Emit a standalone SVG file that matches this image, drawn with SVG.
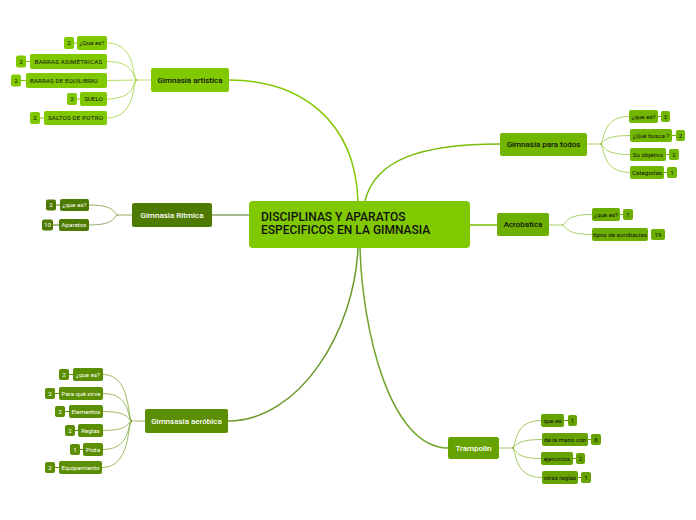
<svg xmlns="http://www.w3.org/2000/svg" width="696" height="520" viewBox="0 0 696 520">
<style>
text{font-family:Roboto,"Liberation Sans",sans-serif;text-anchor:middle;dominant-baseline:central}
.main text{font-size:12px;font-weight:500;fill:#111;text-anchor:start;dominant-baseline:auto}
.l1{font-size:8px;font-weight:500}
.s{font-size:6.2px}
.b{font-size:6.2px}
.dk{fill:#111}
.wt{fill:#fff}
.c{fill:none;stroke-width:1.5}
.sc{fill:none;stroke-width:1;stroke-opacity:0.6}
.g1{fill:#80c800}.g2{fill:#71b700}.g3{fill:#6caf00}.g4{fill:#4d7a00}.g5{fill:#5b8e00}.g6{fill:#66a300}
</style>
<g id="connectors">
<path class="c" stroke="#80c800" d="M358,201 C355,120 300,80 229,80"/>
<path class="c" stroke="#76bc08" d="M365,201 C375,160 420,144 500,144"/>
<path class="c" stroke="#8aa36a" d="M249,215 L212,215"/>
<path class="c" stroke="#74b800" d="M469,225 L497,225"/>
<path class="c" stroke="#6a9a28" d="M358,247 C355,330 300,421 228,421"/>
<path class="c" stroke="#6fa52a" d="M360,247 C362,330 390,448 448,448"/>
<g stroke="#80c800">
<path class="sc" d="M151,80 L137,80"/>
<path class="sc" d="M137,80 C132,80 137,43 107,43"/>
<path class="sc" d="M137,80 C132,80 137,61.5 107,61.5"/>
<path class="sc" d="M137,80 L107,80.5"/>
<path class="sc" d="M137,80 C132,80 137,99 107,99"/>
<path class="sc" d="M137,80 C132,80 137,118 107,118"/>
</g>
<g stroke="#71b700">
<path class="sc" d="M587,144 L600,144"/>
<path class="sc" d="M600,144 C605,144 600,116.5 629,116.5"/>
<path class="sc" d="M600,144 C605,144 600,135.5 630,135.5"/>
<path class="sc" d="M600,144 C605,144 600,154.5 630,154.5"/>
<path class="sc" d="M600,144 C605,144 600,172.5 630,172.5"/>
</g>
<g stroke="#4d7a00">
<path class="sc" d="M132,215 L118,215"/>
<path class="sc" d="M118,215 C113,215 118,205 89,205"/>
<path class="sc" d="M118,215 C113,215 118,225 89,225"/>
</g>
<g stroke="#6caf00">
<path class="sc" d="M549,225 L562,225"/>
<path class="sc" d="M562,225 C567,225 562,214.5 592,214.5"/>
<path class="sc" d="M562,225 C567,225 562,234.5 592,234.5"/>
</g>
<g stroke="#5b8e00">
<path class="sc" d="M145,421 L132,421"/>
<path class="sc" d="M132,421 C127,421 132,374.5 103,374.5"/>
<path class="sc" d="M132,421 C127,421 132,393.5 103,393.5"/>
<path class="sc" d="M132,421 C127,421 132,411.5 103,411.5"/>
<path class="sc" d="M132,421 C127,421 132,430.5 103,430.5"/>
<path class="sc" d="M132,421 C127,421 132,449.5 103,449.5"/>
<path class="sc" d="M132,421 C127,421 132,467.5 102,467.5"/>
</g>
<g stroke="#66a300">
<path class="sc" d="M499,448 L512,448"/>
<path class="sc" d="M512,448 C517,448 512,420.5 541,420.5"/>
<path class="sc" d="M512,448 C517,448 512,439.5 542,439.5"/>
<path class="sc" d="M512,448 C517,448 512,458.5 541,458.5"/>
<path class="sc" d="M512,448 C517,448 512,477.5 542,477.5"/>
</g>
</g>
<g id="main" class="main">
<rect x="249" y="201" width="221" height="47" rx="4" fill="#80c800"/>
<text x="261" y="221">DISCIPLINAS Y APARATOS</text>
<text x="261" y="233.5">ESPECIFICOS EN LA GIMNASIA</text>
</g>
<g id="artistica">
<rect class="g1" x="151" y="68" width="78" height="24" rx="2"/>
<text class="l1 dk" x="190" y="80">Gimnasia artistica</text>
</g>
<g id="paratodos">
<rect class="g2" x="500" y="133" width="87" height="23" rx="2"/>
<text class="l1 dk" x="543.5" y="144.5">Gimnasia para todos</text>
</g>
<g id="acrobatica">
<rect class="g3" x="497" y="213" width="52" height="23" rx="2"/>
<text class="l1 dk" x="523" y="224.5">Acrobatica</text>
</g>
<g id="ritmica">
<rect class="g4" x="132" y="203" width="80" height="24" rx="2"/>
<text class="l1 wt" x="172" y="215">Gimnasia Ritmica</text>
</g>
<g id="aerobica">
<rect class="g5" x="145" y="409" width="83" height="24" rx="2"/>
<text class="l1 wt" x="186.5" y="421">Gimnsasia aeróbica</text>
</g>
<g id="trampolin">
<rect class="g6" x="448" y="437" width="51" height="22" rx="2"/>
<text class="l1 wt" x="473.5" y="448">Trampolin</text>
</g>
<g id="artistica-subs">
<g id="a1"><rect class="g1" x="77" y="36" width="30" height="14" rx="2"/><text class="s dk" x="92" y="43">¿Que es?</text><line x1="74" y1="43" x2="77" y2="43" stroke="#80c800"/><rect class="g1" x="64" y="37" width="10" height="12" rx="2"/><text class="b dk" x="69" y="43">2</text></g>
<g id="a2"><rect class="g1" x="30" y="54" width="77" height="15" rx="2"/><text class="s dk" x="68.5" y="61.5" letter-spacing="0.2">BARRAS ASIMÉTRICAS</text><line x1="26" y1="61.5" x2="30" y2="61.5" stroke="#80c800"/><rect class="g1" x="16" y="55.5" width="10" height="12" rx="2"/><text class="b dk" x="21" y="61.5">2</text></g>
<g id="a3"><rect class="g1" x="26" y="73" width="81" height="15" rx="2"/><text class="s dk" x="64" y="80.5" letter-spacing="0.1">BARRAS DE EQUILIBRIO</text><line x1="21" y1="80.5" x2="26" y2="80.5" stroke="#80c800"/><rect class="g1" x="11" y="74.5" width="10" height="12" rx="2"/><text class="b dk" x="16" y="80.5">2</text></g>
<g id="a4"><rect class="g1" x="80" y="92" width="27" height="14" rx="2"/><text class="s dk" x="93.5" y="99">SUELO</text><line x1="77" y1="99" x2="80" y2="99" stroke="#80c800"/><rect class="g1" x="67" y="93" width="10" height="12" rx="2"/><text class="b dk" x="72" y="99">2</text></g>
<g id="a5"><rect class="g1" x="44" y="111" width="63" height="14" rx="2"/><text class="s dk" x="75.5" y="118" letter-spacing="0.2">SALTOS DE POTRO</text><line x1="40" y1="118" x2="44" y2="118" stroke="#80c800"/><rect class="g1" x="30" y="112" width="10" height="12" rx="2"/><text class="b dk" x="35" y="118">2</text></g>
</g>
<g id="paratodos-subs">
<g id="p1"><rect class="g2" x="629" y="110" width="29" height="13" rx="2"/><text class="s dk" x="643.5" y="116.5">¿que es?</text><line x1="658" y1="116.5" x2="661" y2="116.5" stroke="#71b700"/><rect class="g2" x="661" y="111" width="9" height="11" rx="2"/><text class="b dk" x="665.5" y="116.5">2</text></g>
<g id="p2"><rect class="g2" x="630" y="129" width="42" height="13" rx="2"/><text class="s dk" x="651" y="135.5">¿Qué busca ?</text><line x1="672" y1="135.5" x2="676" y2="135.5" stroke="#71b700"/><rect class="g2" x="676" y="130" width="9" height="11" rx="2"/><text class="b dk" x="680.5" y="135.5">2</text></g>
<g id="p3"><rect class="g2" x="630" y="148" width="36" height="13" rx="2"/><text class="s dk" x="648" y="154.5">Su objetivo</text><line x1="666" y1="154.5" x2="669" y2="154.5" stroke="#71b700"/><rect class="g2" x="669" y="149" width="10" height="11" rx="2"/><text class="b dk" x="674" y="154.5">2</text></g>
<g id="p4"><rect class="g2" x="630" y="166" width="34" height="13" rx="2"/><text class="s dk" x="647" y="172.5">Categorías</text><line x1="664" y1="172.5" x2="667" y2="172.5" stroke="#71b700"/><rect class="g2" x="667" y="167" width="10" height="11" rx="2"/><text class="b dk" x="672" y="172.5">1</text></g>
</g>
<g id="ritmica-subs">
<g id="r1"><rect class="g4" x="60" y="199" width="29" height="12" rx="2"/><text class="s wt" x="74.5" y="205">¿que es?</text><line x1="56" y1="205" x2="60" y2="205" stroke="#4d7a00"/><rect class="g4" x="46" y="199.5" width="10" height="11" rx="2"/><text class="b wt" x="51" y="205">2</text></g>
<g id="r2"><rect class="g4" x="59" y="219" width="30" height="12" rx="2"/><text class="s wt" x="74" y="225">Aparatos</text><line x1="53" y1="225" x2="59" y2="225" stroke="#4d7a00"/><rect class="g4" x="42" y="219.5" width="11" height="11" rx="2"/><text class="b wt" x="47.5" y="225">10</text></g>
</g>
<g id="acrobatica-subs">
<g id="ac1"><rect class="g3" x="592" y="208" width="28" height="13" rx="2"/><text class="s dk" x="606" y="214.5">¿que es?</text><line x1="620" y1="214.5" x2="623" y2="214.5" stroke="#6caf00"/><rect class="g3" x="623" y="209" width="10" height="11" rx="2"/><text class="b dk" x="628" y="214.5">1</text></g>
<g id="ac2"><rect class="g3" x="592" y="228" width="56" height="13" rx="2"/><text class="s dk" x="620" y="234.5">tipos de acrobacias</text><rect class="g3" x="651" y="229" width="14" height="11" rx="2"/><text class="b dk" x="658" y="234.5">19</text></g>
</g>
<g id="aerobica-subs">
<g id="e1"><rect class="g5" x="73" y="368" width="30" height="13" rx="2"/><text class="s wt" x="88" y="374.5">¿que es?</text><line x1="69" y1="374.5" x2="73" y2="374.5" stroke="#5b8e00"/><rect class="g5" x="59" y="369" width="10" height="11" rx="2"/><text class="b wt" x="64" y="374.5">2</text></g>
<g id="e2"><rect class="g5" x="59" y="387" width="44" height="13" rx="2"/><text class="s wt" x="81" y="393.5">Para qué sirve</text><line x1="55" y1="393.5" x2="59" y2="393.5" stroke="#5b8e00"/><rect class="g5" x="45" y="388" width="10" height="11" rx="2"/><text class="b wt" x="50" y="393.5">2</text></g>
<g id="e3"><rect class="g5" x="69" y="405" width="34" height="13" rx="2"/><text class="s wt" x="86" y="411.5">Elementos</text><line x1="65" y1="411.5" x2="69" y2="411.5" stroke="#5b8e00"/><rect class="g5" x="55" y="406" width="10" height="11" rx="2"/><text class="b wt" x="60" y="411.5">2</text></g>
<g id="e4"><rect class="g5" x="78" y="424" width="25" height="13" rx="2"/><text class="s wt" x="90.5" y="430.5">Reglas</text><line x1="75" y1="430.5" x2="78" y2="430.5" stroke="#5b8e00"/><rect class="g5" x="65" y="425" width="10" height="11" rx="2"/><text class="b wt" x="70" y="430.5">2</text></g>
<g id="e5"><rect class="g5" x="83" y="443" width="20" height="13" rx="2"/><text class="s wt" x="93" y="449.5">Pista</text><line x1="80" y1="449.5" x2="83" y2="449.5" stroke="#5b8e00"/><rect class="g5" x="70" y="444" width="10" height="11" rx="2"/><text class="b wt" x="75" y="449.5">1</text></g>
<g id="e6"><rect class="g5" x="59" y="461" width="43" height="13" rx="2"/><text class="s wt" x="80.5" y="467.5">Equipamiento</text><line x1="55" y1="467.5" x2="59" y2="467.5" stroke="#5b8e00"/><rect class="g5" x="45" y="462" width="10" height="11" rx="2"/><text class="b wt" x="50" y="467.5">2</text></g>
</g>
<g id="trampolin-subs">
<g id="t1"><rect class="g6" x="541" y="414" width="23" height="13" rx="2"/><text class="s dk" x="552.5" y="420.5">que es</text><line x1="564" y1="420.5" x2="568" y2="420.5" stroke="#66a300"/><rect class="g6" x="568" y="415" width="9" height="11" rx="2"/><text class="b dk" x="572.5" y="420.5">1</text></g>
<g id="t2"><rect class="g6" x="542" y="433" width="46" height="13" rx="2"/><text class="s dk" x="565" y="439.5">de la mano con</text><line x1="588" y1="439.5" x2="591" y2="439.5" stroke="#66a300"/><rect class="g6" x="591" y="434" width="10" height="11" rx="2"/><text class="b dk" x="596" y="439.5">6</text></g>
<g id="t3"><rect class="g6" x="541" y="452" width="32" height="13" rx="2"/><text class="s dk" x="557" y="458.5">ejercicios</text><line x1="573" y1="458.5" x2="576" y2="458.5" stroke="#66a300"/><rect class="g6" x="576" y="453" width="9" height="11" rx="2"/><text class="b dk" x="580.5" y="458.5">2</text></g>
<g id="t4"><rect class="g6" x="542" y="471" width="36" height="13" rx="2"/><text class="s dk" x="560" y="477.5">otras reglas</text><line x1="578" y1="477.5" x2="581" y2="477.5" stroke="#66a300"/><rect class="g6" x="581" y="472" width="10" height="11" rx="2"/><text class="b dk" x="586" y="477.5">1</text></g>
</g>
</svg>
